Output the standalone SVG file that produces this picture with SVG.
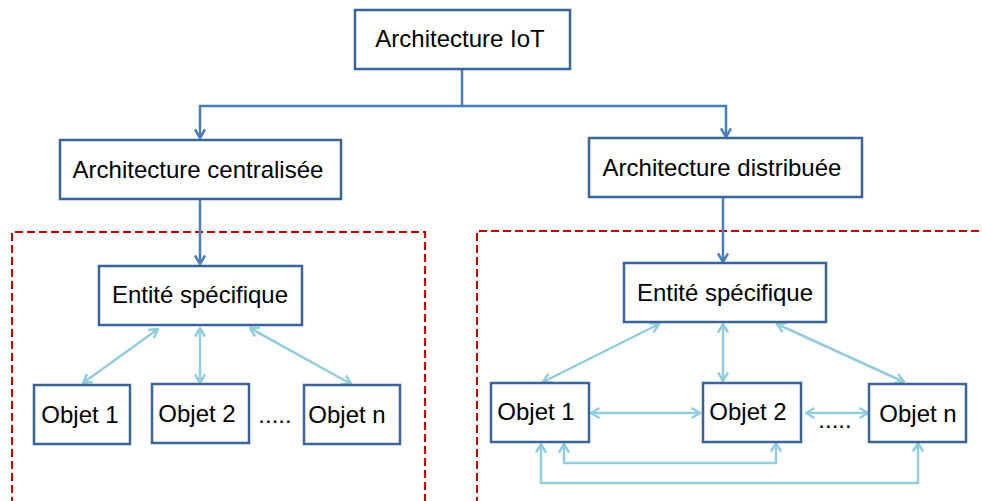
<svg xmlns="http://www.w3.org/2000/svg" width="982" height="501" viewBox="0 0 982 501">
<style>
.box{fill:#fff;stroke:#3c6494;stroke-width:2.5}
.t{font-family:"Liberation Sans",Arial,sans-serif;font-size:24px;fill:#000;text-anchor:middle}
.dk{fill:none;stroke:#4a7ebb;stroke-width:2.5}
.lt{fill:none;stroke:#93cddd;stroke-width:2.5}
.zone{fill:none;stroke:#c00000;stroke-width:2;stroke-dasharray:8 4}
</style>
<defs>
<marker id="ad" viewBox="0 0 12 12" refX="10.5" refY="6" markerWidth="12" markerHeight="12" markerUnits="userSpaceOnUse" orient="auto-start-reverse">
<path d="M2,1 L10.5,6 L2,11" fill="none" stroke="#4a7ebb" stroke-width="2.5"/>
</marker>
<marker id="al" viewBox="0 0 12 12" refX="10.5" refY="6" markerWidth="12" markerHeight="12" markerUnits="userSpaceOnUse" orient="auto-start-reverse">
<path d="M2,1 L10.5,6 L2,11" fill="none" stroke="#93cddd" stroke-width="2.5"/>
</marker>
</defs>
<g id="zones">
<path class="zone" d="M12,505 V232 H425 V505"/>
<path class="zone" d="M477,505 V231 H990"/>
</g>
<g id="connectors">
<path class="dk" d="M462,69 V106 H200 V138" marker-end="url(#ad)"/>
<path class="dk" d="M462,106 H726 V137" marker-end="url(#ad)"/>
<path class="dk" d="M200,199 V264" marker-end="url(#ad)"/>
<path class="dk" d="M723,197 V262" marker-end="url(#ad)"/>
<path class="lt" d="M158,329 L83,383" marker-start="url(#al)" marker-end="url(#al)"/>
<path class="lt" d="M200,328 V383" marker-start="url(#al)" marker-end="url(#al)"/>
<path class="lt" d="M250,328 L351,384" marker-start="url(#al)" marker-end="url(#al)"/>
<path class="lt" d="M659,324 L543,382" marker-start="url(#al)" marker-end="url(#al)"/>
<path class="lt" d="M723,324 V381" marker-start="url(#al)" marker-end="url(#al)"/>
<path class="lt" d="M777,324 L904,382" marker-start="url(#al)" marker-end="url(#al)"/>
<path class="lt" d="M591,413 H700" marker-start="url(#al)" marker-end="url(#al)"/>
<path class="lt" d="M806,413 H868" marker-start="url(#al)" marker-end="url(#al)"/>
<path class="lt" d="M564,444 V463 H776 V443" marker-start="url(#al)" marker-end="url(#al)"/>
<path class="lt" d="M541,444 V483 H918 V443" marker-start="url(#al)" marker-end="url(#al)"/>
</g>
<g id="n-iot"><rect class="box" x="355" y="10" width="215" height="59"/><text class="t" x="460" y="47">Architecture IoT</text></g>
<g id="n-central"><rect class="box" x="60" y="140" width="281" height="59"/><text class="t" x="198" y="178">Architecture centralisée</text></g>
<g id="n-distrib"><rect class="box" x="589" y="138" width="273" height="59"/><text class="t" x="722" y="176">Architecture distribuée</text></g>
<g id="n-entite-c"><rect class="box" x="99" y="266" width="203" height="59"/><text class="t" x="200" y="303">Entité spécifique</text></g>
<g id="n-obj1-c"><rect class="box" x="34" y="385" width="96" height="59"/><text class="t" x="80" y="423">Objet 1</text></g>
<g id="n-obj2-c"><rect class="box" x="152" y="384" width="97" height="59"/><text class="t" x="197" y="422">Objet 2</text></g>
<g id="n-objn-c"><rect class="box" x="304" y="385" width="96" height="59"/><text class="t" x="347" y="423">Objet n</text></g>
<text class="t" x="275" y="423">.....</text>
<g id="n-entite-d"><rect class="box" x="624" y="263" width="202" height="59"/><text class="t" x="725" y="301">Entité spécifique</text></g>
<g id="n-obj1-d"><rect class="box" x="491" y="383" width="98" height="59"/><text class="t" x="536" y="420">Objet 1</text></g>
<g id="n-obj2-d"><rect class="box" x="703" y="383" width="98" height="59"/><text class="t" x="748" y="420">Objet 2</text></g>
<g id="n-objn-d"><rect class="box" x="869" y="384" width="97" height="58"/><text class="t" x="918" y="422">Objet n</text></g>
<text class="t" x="835" y="428">.....</text>
</svg>
